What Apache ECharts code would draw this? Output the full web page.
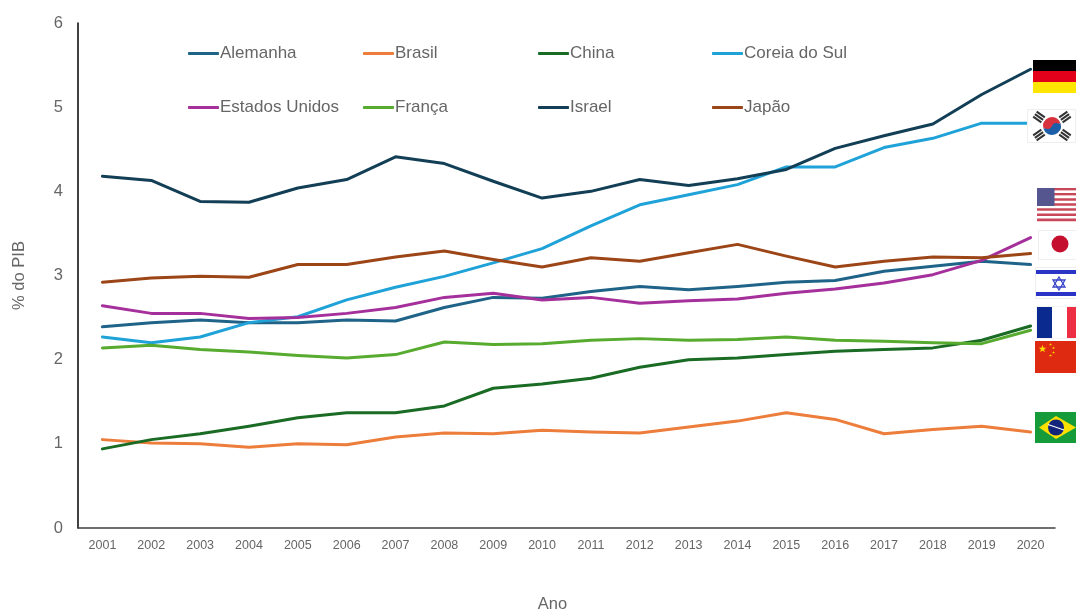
<!DOCTYPE html>
<html><head><meta charset="utf-8">
<script src="https://cdn.jsdelivr.net/npm/echarts@6/dist/echarts.min.js"></script>
<style>html,body{margin:0;padding:0;background:#fff}#c{width:1076px;height:610px}</style>
</head><body><div id="c"></div>
<script>
const years = ['2001','2002','2003','2004','2005','2006','2007','2008','2009','2010','2011','2012','2013','2014','2015','2016','2017','2018','2019','2020'];
const alemanha = [2.39,2.44,2.47,2.44,2.44,2.47,2.46,2.62,2.74,2.73,2.81,2.87,2.83,2.87,2.92,2.94,3.05,3.11,3.17,3.13];
const brasil = [1.05,1.01,1.00,0.96,1.00,0.99,1.08,1.13,1.12,1.16,1.14,1.13,1.20,1.27,1.37,1.29,1.12,1.17,1.21,1.14];
const china = [0.94,1.05,1.12,1.21,1.31,1.37,1.37,1.45,1.66,1.71,1.78,1.91,2.00,2.02,2.06,2.10,2.12,2.14,2.23,2.40];
const coreia = [2.27,2.20,2.27,2.44,2.51,2.71,2.86,2.99,3.15,3.32,3.59,3.84,3.96,4.08,4.29,4.29,4.52,4.63,4.81,4.81];
const eua = [2.64,2.55,2.55,2.49,2.50,2.55,2.62,2.74,2.79,2.71,2.74,2.67,2.70,2.72,2.79,2.84,2.91,3.01,3.18,3.45];
const franca = [2.14,2.17,2.12,2.09,2.05,2.02,2.06,2.21,2.18,2.19,2.23,2.25,2.23,2.24,2.27,2.23,2.22,2.20,2.19,2.35];
const israel = [4.18,4.13,3.88,3.87,4.04,4.14,4.41,4.33,4.12,3.92,4.00,4.14,4.07,4.15,4.26,4.51,4.66,4.80,5.15,5.45];
const japao = [2.92,2.97,2.99,2.98,3.13,3.13,3.22,3.29,3.19,3.10,3.21,3.17,3.27,3.37,3.23,3.10,3.17,3.22,3.21,3.26];

const names = ['Alemanha','Brasil','China','Coreia do Sul','Estados Unidos','França','Israel','Japão'];
const values = [alemanha,brasil,china,coreia,eua,franca,israel,japao];
const colors = ['#1f6488','#ed7d3a','#1a6b24','#1fa2d8','#a5309b','#57ab2f','#123f55','#9c4517'];
const legendX = [188,363,538,712];
const legendY = [45,99];
const FONT='"Liberation Sans",Arial,sans-serif';

const legends = names.map((n,i)=>({
  data:[n], left:legendX[i%4], top:legendY[Math.floor(i/4)], orient:'horizontal',
  itemWidth:31, itemHeight:3, padding:0,
  icon:'roundRect',
  textStyle:{color:'#666666',fontSize:17,fontFamily:FONT,padding:[0,0,0,-4]},
  selectedMode:false
}));

const R=(x,y,w,h,fill)=>({type:'rect',shape:{x,y,width:w,height:h},style:{fill},z:100});
const C=(cx,cy,r,fill)=>({type:'circle',shape:{cx,cy,r},style:{fill},z:101});
const P=(points,fill)=>({type:'polygon',shape:{points},style:{fill},z:101});
const star=(cx,cy,r,fill)=>{
  const pts=[];
  for(let k=0;k<10;k++){
    const rr=k%2?r*0.4:r, a=-Math.PI/2+k*Math.PI/5;
    pts.push([cx+rr*Math.cos(a),cy+rr*Math.sin(a)]);
  }
  return {type:'polygon',shape:{points:pts},style:{fill},z:102};
};
const flags=[];
// Alemanha
flags.push(R(1033,60,43,11,'#000000'),R(1033,71,43,11,'#e2001a'),R(1033,82,43,11,'#ffe600'));
// Coreia do Sul
flags.push({type:'rect',shape:{x:1027.5,y:109.5,width:48,height:33},style:{fill:'#fff',stroke:'#eeeeee',lineWidth:1},z:100});
flags.push({type:'sector',shape:{cx:1052,cy:126,r:9,r0:0,startAngle:Math.PI*0.9,endAngle:Math.PI*1.9},style:{fill:'#d8323f'},z:101});
flags.push({type:'sector',shape:{cx:1052,cy:126,r:9,r0:0,startAngle:Math.PI*1.9,endAngle:Math.PI*2.9},style:{fill:'#1c5fa8'},z:101});
flags.push(C(1047.7,124.6,4.5,'#d8323f'),C(1056.3,127.4,4.5,'#1c5fa8'));
[[1039,117,-35],[1065,117,35],[1039,135,35],[1065,135,-35]].forEach(([x,y,a])=>{
  [-3,0,3].forEach(d=>{
    flags.push({type:'rect',x:x,y:y,originX:0,originY:0,rotation:a*Math.PI/180,
      shape:{x:-5,y:d-1,width:10,height:2},style:{fill:'#333333'},z:101});
  });
});
// Estados Unidos
for(let i=0;i<13;i++){flags.push(R(1037,188+i*33/13,39,33/13+0.2,i%2?'#ffffff':'#c8485a'));}
flags.push(R(1037,188,17.5,18,'#55558f'));
// Japão
flags.push({type:'rect',shape:{x:1038.5,y:230.5,width:38,height:29},style:{fill:'#fff',stroke:'#eeeeee',lineWidth:1},z:100});
flags.push(C(1060,244,8.5,'#c4102e'));
// Israel
flags.push({type:'rect',shape:{x:1035.5,y:267.5,width:41,height:31},style:{fill:'#fff',stroke:'#eeeeee',lineWidth:1},z:100});
flags.push(R(1036,270,40,4,'#2a35c8'),R(1036,292,40,4,'#2a35c8'));
flags.push({type:'polygon',shape:{points:[[1059,277],[1065,287],[1053,287]]},style:{fill:'none',stroke:'#3a44c8',lineWidth:1.3},z:101});
flags.push({type:'polygon',shape:{points:[[1059,290],[1065,280],[1053,280]]},style:{fill:'none',stroke:'#3a44c8',lineWidth:1.3},z:101});
// França
flags.push(R(1036,306,41,33,'#f4f4f4'));
flags.push(R(1037,307,15,31,'#0a2a8f'),R(1052,307,15,31,'#ffffff'),R(1067,307,9,31,'#ee2e42'));
// China
flags.push(R(1035,341,41,32,'#de2a10'));
flags.push(star(1042.5,349,4,'#ffde00'),star(1050.5,344.5,1.5,'#ffde00'),star(1053.5,348,1.5,'#ffde00'),star(1053.5,352.5,1.5,'#ffde00'),star(1050.5,355.5,1.5,'#ffde00'));
// Brasil
flags.push(R(1035,412,41,31,'#169b3a'));
flags.push(P([[1039,427.5],[1056,416],[1076,427.5],[1056,439]],'#fde000'));
flags.push(C(1056,427.5,8,'#12257a'));
flags.push({type:'line',shape:{x1:1048,y1:424.5,x2:1064,y2:430},style:{stroke:'#ffffff',lineWidth:1.2},z:102});

const chart=echarts.init(document.getElementById('c'),null,{renderer:'canvas'});
chart.setOption({
  animation:false,
  backgroundColor:'#ffffff',
  color:colors,
  legend:legends,
  grid:{left:78,right:21,top:23,bottom:82,containLabel:false,outerBoundsMode:'none'},
  xAxis:{type:'category',data:years,boundaryGap:true,
    name:'Ano',nameLocation:'middle',nameGap:68,
    nameTextStyle:{color:'#666666',fontSize:16.5,fontFamily:FONT,padding:[0,28,0,0]},
    axisLine:{lineStyle:{color:'#404040',width:1.5}},axisTick:{show:false},
    axisLabel:{color:'#666666',fontSize:12.5,margin:11,interval:0,fontFamily:FONT},
    splitLine:{show:false}},
  yAxis:{type:'value',min:0,max:6,interval:1,
    name:'% do PIB',nameLocation:'middle',nameGap:50,nameRotate:90,
    nameTextStyle:{color:'#666666',fontSize:16.5,fontFamily:FONT},
    axisLine:{show:true,lineStyle:{color:'#000000',width:1.5}},axisTick:{show:false},
    axisLabel:{color:'#666666',fontSize:16.5,margin:15,fontFamily:FONT},
    splitLine:{show:false}},
  series:names.map((n,i)=>({name:n,type:'line',data:values[i],symbol:'none',smooth:false,
    lineStyle:{width:3,color:colors[i],cap:'round',join:'round'},itemStyle:{color:colors[i]}})),
  graphic:{elements:flags}
});
</script></body></html>
